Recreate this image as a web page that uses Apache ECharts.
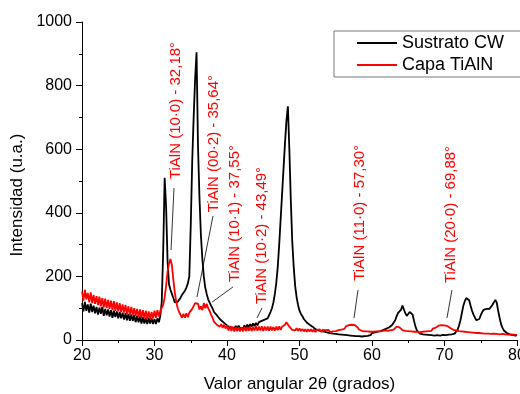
<!DOCTYPE html>
<html>
<head>
<meta charset="utf-8">
<script src="https://cdn.jsdelivr.net/npm/echarts@6/dist/echarts.min.js"></script>
<style>html,body{margin:0;padding:0;background:#fff}#c{width:520px;height:394px}</style>
</head>
<body>
<div id="c"></div>
<script>
// 2θ sampling grid: 20.0 .. 80.0 step 0.2 (301 samples)
const angleStart = 20, angleStep = 0.2;

// Sustrato CW (black)
const sustratoCW = [
116, 90, 120, 92, 112, 86, 114, 88, 108, 84,
104, 80, 102, 82, 104, 76, 98, 78, 96, 74,
94, 70, 92, 72, 90, 68, 88, 68, 86, 64,
84, 62, 82, 60, 80, 60, 78, 56, 76, 56,
74, 52, 72, 52, 70, 50, 70, 52, 68, 50,
66, 50, 68, 56, 75, 120, 280, 510, 420, 250,
175, 158, 145, 132, 118, 112, 120, 124, 133, 142,
148, 155, 165, 178, 200, 360, 560, 700, 820, 905,
610, 450, 330, 255, 200, 165, 145, 128, 118, 108,
100, 88, 90, 78, 78, 66, 68, 58, 60, 50,
52, 42, 48, 40, 46, 36, 44, 36, 45, 38,
44, 36, 46, 38, 48, 40, 50, 42, 52, 44,
54, 46, 56, 50, 60, 54, 64, 58, 68, 66,
88, 100, 118, 145, 180, 230, 300, 380, 460, 540,
620, 690, 735, 600, 440, 310, 230, 170, 135, 110,
92, 82, 75, 66, 62, 55, 56, 48, 50, 42,
40, 34, 36, 30, 33, 28, 31, 26, 29, 24,
27, 22, 25, 20, 24, 19, 22, 18, 21, 17,
20, 16, 19, 15, 18, 14, 17, 13, 16, 12,
15, 12, 14, 11, 15, 12, 16, 13, 17, 15,
22, 19, 24, 21, 26, 24, 28, 27, 32, 30,
36, 34, 40, 42, 48, 55, 62, 75, 85, 88,
95, 108, 96, 84, 76, 80, 88, 92, 80, 60,
42, 30, 24, 20, 22, 18, 21, 17, 20, 16,
19, 15, 18, 14, 17, 15, 18, 14, 17, 16,
19, 15, 20, 17, 21, 18, 22, 20, 26, 32,
45, 62, 85, 108, 122, 132, 138, 125, 108, 92,
80, 70, 62, 57, 66, 78, 88, 95, 92, 98,
100, 98, 104, 110, 118, 126, 118, 92, 70, 50,
38, 30, 26, 22, 20, 18, 17, 15, 16, 14,
15
];

// Capa TiAlN (red)
const capaTiAlN = [
152, 124, 158, 128, 148, 118, 150, 116, 142, 114,
138, 110, 136, 106, 132, 102, 130, 100, 126, 98,
124, 94, 122, 92, 118, 90, 116, 88, 112, 86,
110, 82, 106, 80, 104, 78, 100, 76, 98, 72,
96, 70, 94, 68, 92, 66, 90, 66, 88, 68,
92, 70, 94, 74, 92, 95, 110, 135, 170, 215,
240, 255, 235, 190, 150, 120, 100, 88, 82, 70,
82, 70, 84, 72, 86, 82, 98, 100, 116, 112,
114, 96, 106, 94, 116, 100, 114, 100, 92, 80,
70, 58, 60, 48, 52, 42, 50, 38, 48, 36,
46, 30, 44, 28, 42, 27, 41, 28, 40, 27,
40, 27, 42, 28, 41, 29, 42, 28, 41, 30,
43, 29, 42, 30, 43, 28, 42, 30, 42, 29,
42, 30, 41, 29, 42, 31, 43, 32, 42, 44,
48, 56, 50, 42, 40, 32, 38, 30, 37, 29,
36, 28, 35, 27, 34, 26, 34, 27, 34, 26,
33, 25, 32, 26, 33, 25, 32, 26, 31, 25,
32, 25, 31, 27, 33, 28, 34, 31, 37, 33,
39, 35, 43, 39, 47, 43, 48, 44, 47, 41,
40, 33, 36, 29, 33, 27, 32, 27, 31, 26,
31, 26, 31, 27, 31, 27, 32, 28, 33, 30,
33, 29, 34, 31, 36, 33, 39, 42, 46, 40,
37, 31, 34, 29, 32, 28, 31, 27, 30, 26,
30, 26, 29, 25, 29, 26, 30, 27, 31, 28,
33, 29, 36, 33, 39, 39, 45, 41, 47, 43,
46, 41, 44, 39, 38, 33, 32, 27, 30, 25,
28, 23, 27, 22, 26, 21, 25, 20, 24, 19,
23, 19, 22, 18, 22, 17, 21, 17, 20, 16,
20, 15, 19, 16, 20, 15, 19, 14, 18, 15,
19, 14, 18, 13, 17, 14, 18, 13, 17, 14,
16
];

const seriesNames = ['Sustrato CW', 'Capa TiAlN'];
const xTicks = [20, 30, 40, 50, 60, 70, 80];
const yTicks = [0, 200, 400, 600, 800, 1000];

// Peak annotations (data coordinates: 2θ, intensity)
const peakLabels = ['TiAlN (10·0) - 32,18°', 'TiAlN (00·2) - 35,64°', 'TiAlN (10·1) - 37,55°',
                    'TiAlN (10·2) - 43,49°', 'TiAlN (11·0) - 57,30°', 'TiAlN (20·0) - 69,88°'];
const labelAnchors = [[32.97, 506], [38.21, 402], [41.10, 182], [44.83, 113], [58.34, 186], [70.90, 179]];
const leaderStart = [[32.69, 478], [38.07, 390], [40.83, 167], [44.83, 101], [58.07, 157], [71.03, 157]];
const leaderEnd   = [[32.28, 283], [35.86, 135], [37.93, 119], [44.14, 69], [57.52, 69], [70.34, 69]];

const twoTheta = sustratoCW.map((_, i) => +(angleStart + angleStep * i).toFixed(1));
const pairs = vals => vals.map((v, i) => [twoTheta[i], v]);

const FONT = '"Liberation Sans", Arial, sans-serif';
const chart = echarts.init(document.getElementById('c'), null, {renderer: 'canvas'});
chart.setOption({
  animation: false,
  backgroundColor: '#fff',
  grid: {left: 82, right: 3, top: 22, bottom: 54, containLabel: false, outerBoundsMode: 'none'},
  legend: {
    orient: 'vertical', left: 334, top: 31,
    padding: [3, 22, 3, 23], itemGap: 4,
    itemWidth: 40, itemHeight: 2, icon: 'rect',
    borderColor: '#777', borderWidth: 1,
    textStyle: {fontFamily: FONT, fontSize: 18, color: '#000'},
    data: seriesNames
  },
  xAxis: {
    type: 'value', min: xTicks[0], max: xTicks[xTicks.length - 1], interval: 10,
    name: 'Valor angular 2θ (grados)', nameLocation: 'middle', nameGap: 36,
    nameTextStyle: {fontFamily: FONT, fontSize: 17, color: '#000'},
    axisLine: {onZero: false, lineStyle: {color: '#000', width: 1}},
    axisTick: {length: 6, lineStyle: {color: '#000'}},
    minorTick: {show: true, splitNumber: 2, length: 3, lineStyle: {color: '#000'}},
    axisLabel: {fontFamily: FONT, fontSize: 16, color: '#000', margin: 8, hideOverlap: false},
    splitLine: {show: false}
  },
  yAxis: {
    type: 'value', min: yTicks[0], max: yTicks[yTicks.length - 1], interval: 200,
    name: 'Intensidad (u.a.)', nameLocation: 'middle', nameGap: 52,
    nameTextStyle: {fontFamily: FONT, fontSize: 17, color: '#000', padding: [0, 28, 0, 0]},
    axisLine: {show: true, lineStyle: {color: '#000', width: 1}},
    axisTick: {show: true, length: 6, lineStyle: {color: '#000'}},
    minorTick: {show: true, splitNumber: 2, length: 3, lineStyle: {color: '#000'}},
    axisLabel: {fontFamily: FONT, fontSize: 16, color: '#000', margin: 10, formatter: v => String(v)},
    splitLine: {show: false}
  },
  series: [
    {name: seriesNames[0], type: 'line', data: pairs(sustratoCW), symbol: 'none',
     lineStyle: {color: '#000', width: 1.8}, itemStyle: {color: '#000'}},
    {name: seriesNames[1], type: 'line', data: pairs(capaTiAlN), symbol: 'none',
     lineStyle: {color: '#ff0000', width: 1.8}, itemStyle: {color: '#ff0000'}}
  ]
});

const g = [];
peakLabels.forEach((t, i) => {
  const a = chart.convertToPixel({gridIndex: 0}, labelAnchors[i]);
  const s = chart.convertToPixel({gridIndex: 0}, leaderStart[i]);
  const e = chart.convertToPixel({gridIndex: 0}, leaderEnd[i]);
  g.push({type: 'line', shape: {x1: s[0], y1: s[1], x2: e[0], y2: e[1]},
          style: {stroke: '#000', lineWidth: 0.8}, z: 100});
  g.push({type: 'text', x: a[0], y: a[1], rotation: Math.PI / 2, z: 100,
          style: {text: t, fill: '#ff0000', fontSize: 15, fontFamily: FONT,
                  align: 'left', verticalAlign: 'middle', textAlign: 'left', textVerticalAlign: 'middle'}});
});
chart.setOption({graphic: g});
</script>
</body>
</html>
